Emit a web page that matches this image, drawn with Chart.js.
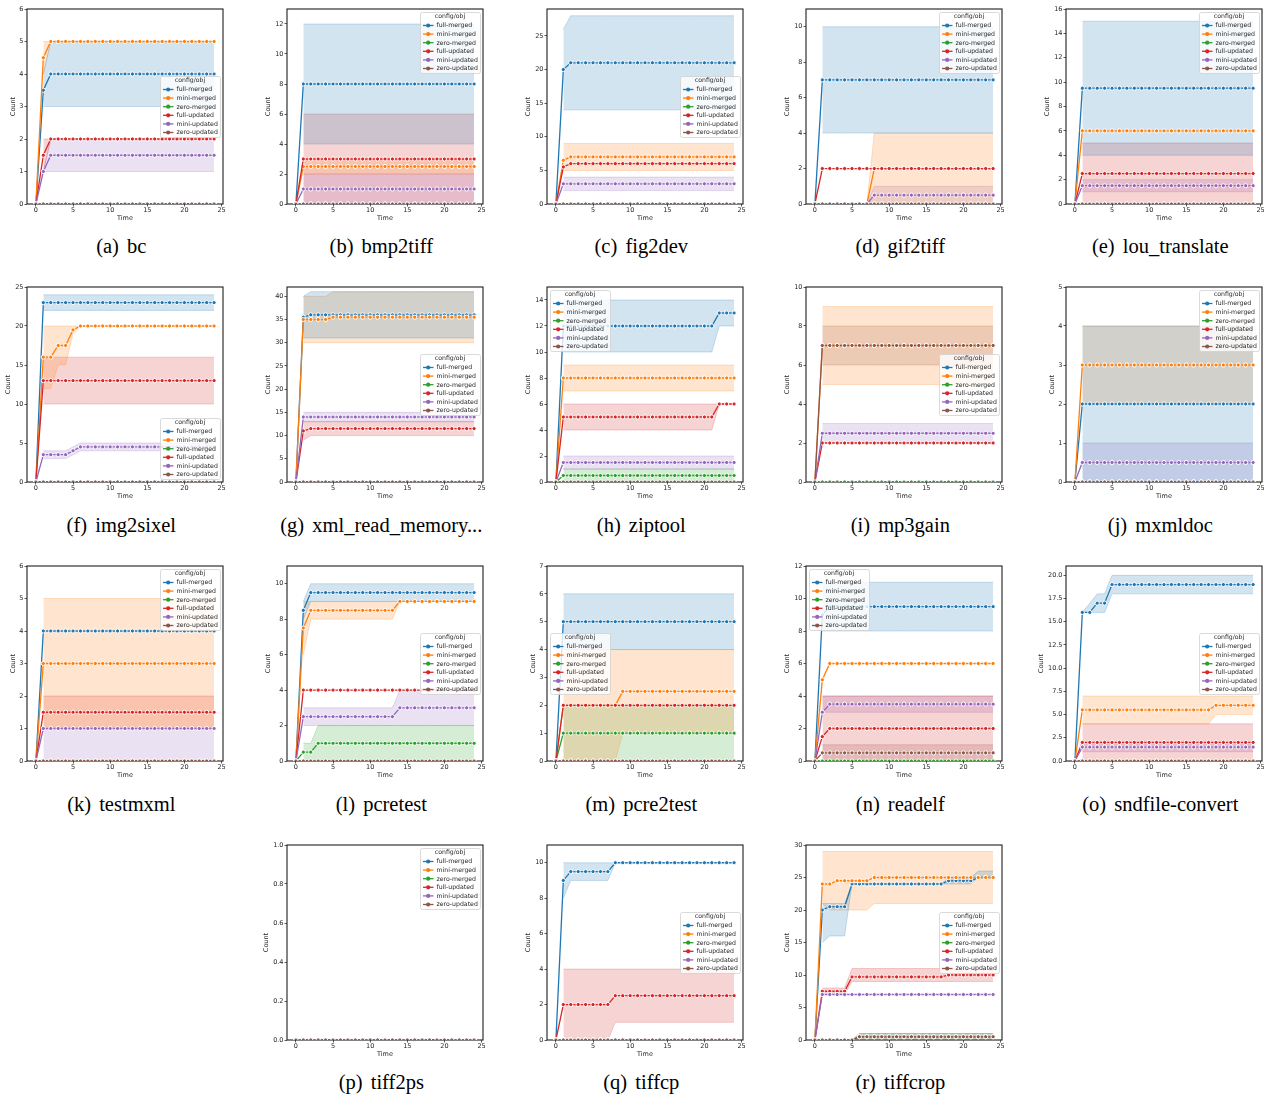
<!DOCTYPE html>
<html><head><meta charset="utf-8">
<script src="https://cdn.jsdelivr.net/npm/chart.js@4.4.1/dist/chart.umd.min.js"></script>
<style>
html,body{margin:0;padding:0;background:#fff;}
body{width:1267px;height:1095px;position:relative;overflow:hidden;}
canvas{position:absolute;}
.cap{position:absolute;font-family:'Liberation Serif','Times New Roman',serif;font-size:20.5px;color:#000;white-space:pre;text-align:center;width:300px;line-height:24px;word-spacing:3px;}
</style></head><body>
<script>
// ---------------- DATA ----------------
const TIME = [0,1,2,3,4, 5,6,7,8,9, 10,11,12,13,14, 15,16,17,18,19, 20,21,22,23,24];
const SERIES = ['full-merged','mini-merged','zero-merged','full-updated','mini-updated','zero-updated'];
const COLORS = ['#1f77b4','#ff7f0e','#2ca02c','#d62728','#9467bd','#8c564b'];
const X_TITLE = 'Time', Y_TITLE = 'Count', LEGEND_TITLE = 'config/obj';
const X_MIN = -1.2, X_MAX = 25.2, X_STEP = 5;
const PANEL_LETTERS = ['a','b','c','d','e','f','g','h','i','j','k','l','m','n','o','p','q','r'];
const PANEL_NAMES = ['bc','bmp2tiff','fig2dev','gif2tiff','lou_translate','img2sixel','xml_read_memory...','ziptool','mp3gain','mxmldoc','testmxml','pcretest','pcre2test','readelf','sndfile-convert','tiff2ps','tiffcp','tiffcrop'];
const Y_MAX  = [6,13,29,11,16, 25,42,15,10,5, 6,11,7,12,21, 1,11,30];
const Y_STEP = [1,2,5,2,2, 5,5,2,2,1, 1,2,1,2,2.5, 0.2,2,5];
const Y_DEC  = [0,0,0,0,0, 0,0,0,0,0, 0,0,0,0,1, 1,0,0];
const LEGEND_LOC = ['right','upper right','right','upper right','upper right','lower right','right','upper left','right','upper right','upper right','right','left','upper left','right','upper right','right','right'];

const ZERO = [0,0,0,0,0, 0,0,0,0,0, 0,0,0,0,0, 0,0,0,0,0, 0,0,0,0,0];

// (a) bc
const bc_mean = [
  [0,3.5,4,4,4, 4,4,4,4,4, 4,4,4,4,4, 4,4,4,4,4, 4,4,4,4,4],
  [0,4.5,5,5,5, 5,5,5,5,5, 5,5,5,5,5, 5,5,5,5,5, 5,5,5,5,5],
  ZERO,
  [0,1.5,2,2,2, 2,2,2,2,2, 2,2,2,2,2, 2,2,2,2,2, 2,2,2,2,2],
  [0,1,1.5,1.5,1.5, 1.5,1.5,1.5,1.5,1.5, 1.5,1.5,1.5,1.5,1.5, 1.5,1.5,1.5,1.5,1.5, 1.5,1.5,1.5,1.5,1.5],
  ZERO];
const bc_low = [
  [null,3,3,3,3, 3,3,3,3,3, 3,3,3,3,3, 3,3,3,3,3, 3,3,3,3,3],
  [null,4,5,5,5, 5,5,5,5,5, 5,5,5,5,5, 5,5,5,5,5, 5,5,5,5,5],
  null,
  [null,1,2,2,2, 2,2,2,2,2, 2,2,2,2,2, 2,2,2,2,2, 2,2,2,2,2],
  [null,1,1,1,1, 1,1,1,1,1, 1,1,1,1,1, 1,1,1,1,1, 1,1,1,1,1],
  null];
const bc_high = [
  [null,4,5,5,5, 5,5,5,5,5, 5,5,5,5,5, 5,5,5,5,5, 5,5,5,5,5],
  [null,5,5,5,5, 5,5,5,5,5, 5,5,5,5,5, 5,5,5,5,5, 5,5,5,5,5],
  null,
  [null,2,2,2,2, 2,2,2,2,2, 2,2,2,2,2, 2,2,2,2,2, 2,2,2,2,2],
  [null,1,2,2,2, 2,2,2,2,2, 2,2,2,2,2, 2,2,2,2,2, 2,2,2,2,2],
  null];

// (b) bmp2tiff
const bmp_mean = [
  [0,8,8,8,8, 8,8,8,8,8, 8,8,8,8,8, 8,8,8,8,8, 8,8,8,8,8],
  [0,2.5,2.5,2.5,2.5, 2.5,2.5,2.5,2.5,2.5, 2.5,2.5,2.5,2.5,2.5, 2.5,2.5,2.5,2.5,2.5, 2.5,2.5,2.5,2.5,2.5],
  ZERO,
  [0,3,3,3,3, 3,3,3,3,3, 3,3,3,3,3, 3,3,3,3,3, 3,3,3,3,3],
  [0,1,1,1,1, 1,1,1,1,1, 1,1,1,1,1, 1,1,1,1,1, 1,1,1,1,1],
  ZERO];
const bmp_low = [
  [null,4,4,4,4, 4,4,4,4,4, 4,4,4,4,4, 4,4,4,4,4, 4,4,4,4,4],
  [null,2,2,2,2, 2,2,2,2,2, 2,2,2,2,2, 2,2,2,2,2, 2,2,2,2,2],
  null,
  [null,0,0,0,0, 0,0,0,0,0, 0,0,0,0,0, 0,0,0,0,0, 0,0,0,0,0],
  [null,0,0,0,0, 0,0,0,0,0, 0,0,0,0,0, 0,0,0,0,0, 0,0,0,0,0],
  null];
const bmp_high = [
  [null,12,12,12,12, 12,12,12,12,12, 12,12,12,12,12, 12,12,12,12,12, 12,12,12,12,12],
  [null,3,3,3,3, 3,3,3,3,3, 3,3,3,3,3, 3,3,3,3,3, 3,3,3,3,3],
  null,
  [null,6,6,6,6, 6,6,6,6,6, 6,6,6,6,6, 6,6,6,6,6, 6,6,6,6,6],
  [null,2,2,2,2, 2,2,2,2,2, 2,2,2,2,2, 2,2,2,2,2, 2,2,2,2,2],
  null];

// (c) fig2dev
const fig_mean = [
  [0,20,21,21,21, 21,21,21,21,21, 21,21,21,21,21, 21,21,21,21,21, 21,21,21,21,21],
  [0,6.5,7,7,7, 7,7,7,7,7, 7,7,7,7,7, 7,7,7,7,7, 7,7,7,7,7],
  ZERO,
  [0,5.5,6,6,6, 6,6,6,6,6, 6,6,6,6,6, 6,6,6,6,6, 6,6,6,6,6],
  [0,3,3,3,3, 3,3,3,3,3, 3,3,3,3,3, 3,3,3,3,3, 3,3,3,3,3],
  ZERO];
const fig_low = [
  [null,14,14,14,14, 14,14,14,14,14, 14,14,14,14,14, 14,14,14,14,14, 14,14,14,14,14],
  [null,5,5,5,5, 5,5,5,5,5, 5,5,5,5,5, 5,5,5,5,5, 5,5,5,5,5],
  null,
  null,
  [null,2,2,2,2, 2,2,2,2,2, 2,2,2,2,2, 2,2,2,2,2, 2,2,2,2,2],
  null];
const fig_high = [
  [null,26,28,28,28, 28,28,28,28,28, 28,28,28,28,28, 28,28,28,28,28, 28,28,28,28,28],
  [null,9,9,9,9, 9,9,9,9,9, 9,9,9,9,9, 9,9,9,9,9, 9,9,9,9,9],
  null,
  null,
  [null,4,4,4,4, 4,4,4,4,4, 4,4,4,4,4, 4,4,4,4,4, 4,4,4,4,4],
  null];

// (d) gif2tiff
const gif_mean = [
  [0,7,7,7,7, 7,7,7,7,7, 7,7,7,7,7, 7,7,7,7,7, 7,7,7,7,7],
  [0,0,0,0,0, 0,0,0,2,2, 2,2,2,2,2, 2,2,2,2,2, 2,2,2,2,2],
  ZERO,
  [0,2,2,2,2, 2,2,2,2,2, 2,2,2,2,2, 2,2,2,2,2, 2,2,2,2,2],
  [0,0,0,0,0, 0,0,0,0.5,0.5, 0.5,0.5,0.5,0.5,0.5, 0.5,0.5,0.5,0.5,0.5, 0.5,0.5,0.5,0.5,0.5],
  ZERO];
const gif_low = [
  [null,4,4,4,4, 4,4,4,4,4, 4,4,4,4,4, 4,4,4,4,4, 4,4,4,4,4],
  [null,0,0,0,0, 0,0,0,0,0, 0,0,0,0,0, 0,0,0,0,0, 0,0,0,0,0],
  null,
  null,
  [null,0,0,0,0, 0,0,0,0,0, 0,0,0,0,0, 0,0,0,0,0, 0,0,0,0,0],
  null];
const gif_high = [
  [null,10,10,10,10, 10,10,10,10,10, 10,10,10,10,10, 10,10,10,10,10, 10,10,10,10,10],
  [null,0,0,0,0, 0,0,0,4,4, 4,4,4,4,4, 4,4,4,4,4, 4,4,4,4,4],
  null,
  null,
  [null,0,0,0,0, 0,0,0,1,1, 1,1,1,1,1, 1,1,1,1,1, 1,1,1,1,1],
  null];

// (e) lou_translate
const lou_mean = [
  [0,9.5,9.5,9.5,9.5, 9.5,9.5,9.5,9.5,9.5, 9.5,9.5,9.5,9.5,9.5, 9.5,9.5,9.5,9.5,9.5, 9.5,9.5,9.5,9.5,9.5],
  [0,6,6,6,6, 6,6,6,6,6, 6,6,6,6,6, 6,6,6,6,6, 6,6,6,6,6],
  ZERO,
  [0,2.5,2.5,2.5,2.5, 2.5,2.5,2.5,2.5,2.5, 2.5,2.5,2.5,2.5,2.5, 2.5,2.5,2.5,2.5,2.5, 2.5,2.5,2.5,2.5,2.5],
  [0,1.5,1.5,1.5,1.5, 1.5,1.5,1.5,1.5,1.5, 1.5,1.5,1.5,1.5,1.5, 1.5,1.5,1.5,1.5,1.5, 1.5,1.5,1.5,1.5,1.5],
  ZERO];
const lou_low = [
  [null,4,4,4,4, 4,4,4,4,4, 4,4,4,4,4, 4,4,4,4,4, 4,4,4,4,4],
  null,
  null,
  [null,0,0,0,0, 0,0,0,0,0, 0,0,0,0,0, 0,0,0,0,0, 0,0,0,0,0],
  [null,1,1,1,1, 1,1,1,1,1, 1,1,1,1,1, 1,1,1,1,1, 1,1,1,1,1],
  null];
const lou_high = [
  [null,15,15,15,15, 15,15,15,15,15, 15,15,15,15,15, 15,15,15,15,15, 15,15,15,15,15],
  null,
  null,
  [null,5,5,5,5, 5,5,5,5,5, 5,5,5,5,5, 5,5,5,5,5, 5,5,5,5,5],
  [null,2,2,2,2, 2,2,2,2,2, 2,2,2,2,2, 2,2,2,2,2, 2,2,2,2,2],
  null];

// (f) img2sixel
const img_mean = [
  [0,23,23,23,23, 23,23,23,23,23, 23,23,23,23,23, 23,23,23,23,23, 23,23,23,23,23],
  [0,16,16,17.5,17.5, 19.5,20,20,20,20, 20,20,20,20,20, 20,20,20,20,20, 20,20,20,20,20],
  ZERO,
  [0,13,13,13,13, 13,13,13,13,13, 13,13,13,13,13, 13,13,13,13,13, 13,13,13,13,13],
  [0,3.5,3.5,3.5,3.5, 4,4.5,4.5,4.5,4.5, 4.5,4.5,4.5,4.5,4.5, 4.5,4.5,4.5,4.5,4.5, 4.5,4.5,4.5,4.5,4.5],
  ZERO];
const img_low = [
  [null,22,22,22,22, 22,22,22,22,22, 22,22,22,22,22, 22,22,22,22,22, 22,22,22,22,22],
  [null,12,12,15,15, 19,20,20,20,20, 20,20,20,20,20, 20,20,20,20,20, 20,20,20,20,20],
  null,
  [null,10,10,10,10, 10,10,10,10,10, 10,10,10,10,10, 10,10,10,10,10, 10,10,10,10,10],
  [null,3,3,3,3, 3.5,4,4,4,4, 4,4,4,4,4, 4,4,4,4,4, 4,4,4,4,4],
  null];
const img_high = [
  [null,24,24,24,24, 24,24,24,24,24, 24,24,24,24,24, 24,24,24,24,24, 24,24,24,24,24],
  [null,20,20,20,20, 20,20,20,20,20, 20,20,20,20,20, 20,20,20,20,20, 20,20,20,20,20],
  null,
  [null,16,16,16,16, 16,16,16,16,16, 16,16,16,16,16, 16,16,16,16,16, 16,16,16,16,16],
  [null,4,4,4,4, 4.5,5,5,5,5, 5,5,5,5,5, 5,5,5,5,5, 5,5,5,5,5],
  null];

// (g) xml_read_memory...
const xml_mean = [
  [0,35.5,36,36,36, 36,36,36,36,36, 36,36,36,36,36, 36,36,36,36,36, 36,36,36,36,36],
  [0,35,35,35,35, 35.5,35.5,35.5,35.5,35.5, 35.5,35.5,35.5,35.5,35.5, 35.5,35.5,35.5,35.5,35.5, 35.5,35.5,35.5,35.5,35.5],
  ZERO,
  [0,11,11.5,11.5,11.5, 11.5,11.5,11.5,11.5,11.5, 11.5,11.5,11.5,11.5,11.5, 11.5,11.5,11.5,11.5,11.5, 11.5,11.5,11.5,11.5,11.5],
  [0,14,14,14,14, 14,14,14,14,14, 14,14,14,14,14, 14,14,14,14,14, 14,14,14,14,14],
  ZERO];
const xml_low = [
  [null,31,31,31,31, 31,31,31,31,31, 31,31,31,31,31, 31,31,31,31,31, 31,31,31,31,31],
  [null,30,30,30,30, 30,30,30,30,30, 30,30,30,30,30, 30,30,30,30,30, 30,30,30,30,30],
  null,
  [null,9,10,10,10, 10,10,10,10,10, 10,10,10,10,10, 10,10,10,10,10, 10,10,10,10,10],
  [null,13,13,13,13, 13,13,13,13,13, 13,13,13,13,13, 13,13,13,13,13, 13,13,13,13,13],
  null];
const xml_high = [
  [null,40,41,41,41, 41,41,41,41,41, 41,41,41,41,41, 41,41,41,41,41, 41,41,41,41,41],
  [null,40,40,40,40, 41,41,41,41,41, 41,41,41,41,41, 41,41,41,41,41, 41,41,41,41,41],
  null,
  [null,13,13,13,13, 13,13,13,13,13, 13,13,13,13,13, 13,13,13,13,13, 13,13,13,13,13],
  [null,15,15,15,15, 15,15,15,15,15, 15,15,15,15,15, 15,15,15,15,15, 15,15,15,15,15],
  null];

// (h) ziptool
const zip_mean = [
  [0,12,12,12,12, 12,12,12,12,12, 12,12,12,12,12, 12,12,12,12,12, 12,12,13,13,13],
  [0,8,8,8,8, 8,8,8,8,8, 8,8,8,8,8, 8,8,8,8,8, 8,8,8,8,8],
  [0,0.5,0.5,0.5,0.5, 0.5,0.5,0.5,0.5,0.5, 0.5,0.5,0.5,0.5,0.5, 0.5,0.5,0.5,0.5,0.5, 0.5,0.5,0.5,0.5,0.5],
  [0,5,5,5,5, 5,5,5,5,5, 5,5,5,5,5, 5,5,5,5,5, 5,5,6,6,6],
  [0,1.5,1.5,1.5,1.5, 1.5,1.5,1.5,1.5,1.5, 1.5,1.5,1.5,1.5,1.5, 1.5,1.5,1.5,1.5,1.5, 1.5,1.5,1.5,1.5,1.5],
  ZERO];
const zip_low = [
  [null,10,10,10,10, 10,10,10,10,10, 10,10,10,10,10, 10,10,10,10,10, 10,10,12,12,12],
  [null,7,7,7,7, 7,7,7,7,7, 7,7,7,7,7, 7,7,7,7,7, 7,7,7,7,7],
  [null,0,0,0,0, 0,0,0,0,0, 0,0,0,0,0, 0,0,0,0,0, 0,0,0,0,0],
  [null,4,4,4,4, 4,4,4,4,4, 4,4,4,4,4, 4,4,4,4,4, 4,4,6,6,6],
  [null,1,1,1,1, 1,1,1,1,1, 1,1,1,1,1, 1,1,1,1,1, 1,1,1,1,1],
  null];
const zip_high = [
  [null,14,14,14,14, 14,14,14,14,14, 14,14,14,14,14, 14,14,14,14,14, 14,14,14,14,14],
  [null,9,9,9,9, 9,9,9,9,9, 9,9,9,9,9, 9,9,9,9,9, 9,9,9,9,9],
  [null,1,1,1,1, 1,1,1,1,1, 1,1,1,1,1, 1,1,1,1,1, 1,1,1,1,1],
  [null,6,6,6,6, 6,6,6,6,6, 6,6,6,6,6, 6,6,6,6,6, 6,6,6,6,6],
  [null,2,2,2,2, 2,2,2,2,2, 2,2,2,2,2, 2,2,2,2,2, 2,2,2,2,2],
  null];

// (i) mp3gain
const mp3_mean = [
  ZERO,
  [0,7,7,7,7, 7,7,7,7,7, 7,7,7,7,7, 7,7,7,7,7, 7,7,7,7,7],
  ZERO,
  [0,2,2,2,2, 2,2,2,2,2, 2,2,2,2,2, 2,2,2,2,2, 2,2,2,2,2],
  [0,2.5,2.5,2.5,2.5, 2.5,2.5,2.5,2.5,2.5, 2.5,2.5,2.5,2.5,2.5, 2.5,2.5,2.5,2.5,2.5, 2.5,2.5,2.5,2.5,2.5],
  [0,7,7,7,7, 7,7,7,7,7, 7,7,7,7,7, 7,7,7,7,7, 7,7,7,7,7]];
const mp3_low = [
  null,
  [null,5,5,5,5, 5,5,5,5,5, 5,5,5,5,5, 5,5,5,5,5, 5,5,5,5,5],
  null,
  null,
  [null,2,2,2,2, 2,2,2,2,2, 2,2,2,2,2, 2,2,2,2,2, 2,2,2,2,2],
  [null,6,6,6,6, 6,6,6,6,6, 6,6,6,6,6, 6,6,6,6,6, 6,6,6,6,6]];
const mp3_high = [
  null,
  [null,9,9,9,9, 9,9,9,9,9, 9,9,9,9,9, 9,9,9,9,9, 9,9,9,9,9],
  null,
  null,
  [null,3,3,3,3, 3,3,3,3,3, 3,3,3,3,3, 3,3,3,3,3, 3,3,3,3,3],
  [null,8,8,8,8, 8,8,8,8,8, 8,8,8,8,8, 8,8,8,8,8, 8,8,8,8,8]];

// (j) mxmldoc
const mxd_mean = [
  [0,2,2,2,2, 2,2,2,2,2, 2,2,2,2,2, 2,2,2,2,2, 2,2,2,2,2],
  [0,3,3,3,3, 3,3,3,3,3, 3,3,3,3,3, 3,3,3,3,3, 3,3,3,3,3],
  ZERO,
  ZERO,
  [0,0.5,0.5,0.5,0.5, 0.5,0.5,0.5,0.5,0.5, 0.5,0.5,0.5,0.5,0.5, 0.5,0.5,0.5,0.5,0.5, 0.5,0.5,0.5,0.5,0.5],
  ZERO];
const mxd_low = [
  [null,0,0,0,0, 0,0,0,0,0, 0,0,0,0,0, 0,0,0,0,0, 0,0,0,0,0],
  [null,2,2,2,2, 2,2,2,2,2, 2,2,2,2,2, 2,2,2,2,2, 2,2,2,2,2],
  null,
  null,
  [null,0,0,0,0, 0,0,0,0,0, 0,0,0,0,0, 0,0,0,0,0, 0,0,0,0,0],
  null];
const mxd_high = [
  [null,4,4,4,4, 4,4,4,4,4, 4,4,4,4,4, 4,4,4,4,4, 4,4,4,4,4],
  [null,4,4,4,4, 4,4,4,4,4, 4,4,4,4,4, 4,4,4,4,4, 4,4,4,4,4],
  null,
  null,
  [null,1,1,1,1, 1,1,1,1,1, 1,1,1,1,1, 1,1,1,1,1, 1,1,1,1,1],
  null];

// (k) testmxml
const tmx_mean = [
  [0,4,4,4,4, 4,4,4,4,4, 4,4,4,4,4, 4,4,4,4,4, 4,4,4,4,4],
  [0,3,3,3,3, 3,3,3,3,3, 3,3,3,3,3, 3,3,3,3,3, 3,3,3,3,3],
  ZERO,
  [0,1.5,1.5,1.5,1.5, 1.5,1.5,1.5,1.5,1.5, 1.5,1.5,1.5,1.5,1.5, 1.5,1.5,1.5,1.5,1.5, 1.5,1.5,1.5,1.5,1.5],
  [0,1,1,1,1, 1,1,1,1,1, 1,1,1,1,1, 1,1,1,1,1, 1,1,1,1,1],
  ZERO];
const tmx_low = [
  null,
  [null,1,1,1,1, 1,1,1,1,1, 1,1,1,1,1, 1,1,1,1,1, 1,1,1,1,1],
  null,
  [null,1,1,1,1, 1,1,1,1,1, 1,1,1,1,1, 1,1,1,1,1, 1,1,1,1,1],
  [null,0,0,0,0, 0,0,0,0,0, 0,0,0,0,0, 0,0,0,0,0, 0,0,0,0,0],
  null];
const tmx_high = [
  null,
  [null,5,5,5,5, 5,5,5,5,5, 5,5,5,5,5, 5,5,5,5,5, 5,5,5,5,5],
  null,
  [null,2,2,2,2, 2,2,2,2,2, 2,2,2,2,2, 2,2,2,2,2, 2,2,2,2,2],
  [null,1,1,1,1, 1,1,1,1,1, 1,1,1,1,1, 1,1,1,1,1, 1,1,1,1,1],
  null];

// (l) pcretest
const pcr_mean = [
  [0,8.5,9.5,9.5,9.5, 9.5,9.5,9.5,9.5,9.5, 9.5,9.5,9.5,9.5,9.5, 9.5,9.5,9.5,9.5,9.5, 9.5,9.5,9.5,9.5,9.5],
  [0,7.5,8.5,8.5,8.5, 8.5,8.5,8.5,8.5,8.5, 8.5,8.5,8.5,8.5,9, 9,9,9,9,9, 9,9,9,9,9],
  [0,0.5,0.5,1,1, 1,1,1,1,1, 1,1,1,1,1, 1,1,1,1,1, 1,1,1,1,1],
  [0,4,4,4,4, 4,4,4,4,4, 4,4,4,4,4, 4,4,4,4,4, 4,4,4,4,4],
  [0,2.5,2.5,2.5,2.5, 2.5,2.5,2.5,2.5,2.5, 2.5,2.5,2.5,2.5,3, 3,3,3,3,3, 3,3,3,3,3],
  ZERO];
const pcr_low = [
  [null,8,9,9,9, 9,9,9,9,9, 9,9,9,9,9, 9,9,9,9,9, 9,9,9,9,9],
  [null,6,8,8,8, 8,8,8,8,8, 8,8,8,8,9, 9,9,9,9,9, 9,9,9,9,9],
  [null,0,0,0,0, 0,0,0,0,0, 0,0,0,0,0, 0,0,0,0,0, 0,0,0,0,0],
  null,
  [null,2,2,2,2, 2,2,2,2,2, 2,2,2,2,2, 2,2,2,2,2, 2,2,2,2,2],
  null];
const pcr_high = [
  [null,9,10,10,10, 10,10,10,10,10, 10,10,10,10,10, 10,10,10,10,10, 10,10,10,10,10],
  [null,9,9,9,9, 9,9,9,9,9, 9,9,9,9,9, 9,9,9,9,9, 9,9,9,9,9],
  [null,1,1,2,2, 2,2,2,2,2, 2,2,2,2,2, 2,2,2,2,2, 2,2,2,2,2],
  null,
  [null,3,3,3,3, 3,3,3,3,3, 3,3,3,3,4, 4,4,4,4,4, 4,4,4,4,4],
  null];

// (m) pcre2test
const pc2_mean = [
  [0,5,5,5,5, 5,5,5,5,5, 5,5,5,5,5, 5,5,5,5,5, 5,5,5,5,5],
  [0,2,2,2,2, 2,2,2,2,2.5, 2.5,2.5,2.5,2.5,2.5, 2.5,2.5,2.5,2.5,2.5, 2.5,2.5,2.5,2.5,2.5],
  [0,1,1,1,1, 1,1,1,1,1, 1,1,1,1,1, 1,1,1,1,1, 1,1,1,1,1],
  [0,2,2,2,2, 2,2,2,2,2, 2,2,2,2,2, 2,2,2,2,2, 2,2,2,2,2],
  ZERO,
  ZERO];
const pc2_low = [
  [null,4,4,4,4, 4,4,4,4,4, 4,4,4,4,4, 4,4,4,4,4, 4,4,4,4,4],
  [null,0,0,0,0, 0,0,0,0,1, 1,1,1,1,1, 1,1,1,1,1, 1,1,1,1,1],
  [null,0,0,0,0, 0,0,0,0,0, 0,0,0,0,0, 0,0,0,0,0, 0,0,0,0,0],
  null,
  null,
  null];
const pc2_high = [
  [null,6,6,6,6, 6,6,6,6,6, 6,6,6,6,6, 6,6,6,6,6, 6,6,6,6,6],
  [null,4,4,4,4, 4,4,4,4,4, 4,4,4,4,4, 4,4,4,4,4, 4,4,4,4,4],
  [null,2,2,2,2, 2,2,2,2,2, 2,2,2,2,2, 2,2,2,2,2, 2,2,2,2,2],
  null,
  null,
  null];

// (n) readelf
const rdf_mean = [
  [0,9,9.5,9.5,9.5, 9.5,9.5,9.5,9.5,9.5, 9.5,9.5,9.5,9.5,9.5, 9.5,9.5,9.5,9.5,9.5, 9.5,9.5,9.5,9.5,9.5],
  [0,5,6,6,6, 6,6,6,6,6, 6,6,6,6,6, 6,6,6,6,6, 6,6,6,6,6],
  ZERO,
  [0,1.5,2,2,2, 2,2,2,2,2, 2,2,2,2,2, 2,2,2,2,2, 2,2,2,2,2],
  [0,3,3.5,3.5,3.5, 3.5,3.5,3.5,3.5,3.5, 3.5,3.5,3.5,3.5,3.5, 3.5,3.5,3.5,3.5,3.5, 3.5,3.5,3.5,3.5,3.5],
  [0,0.5,0.5,0.5,0.5, 0.5,0.5,0.5,0.5,0.5, 0.5,0.5,0.5,0.5,0.5, 0.5,0.5,0.5,0.5,0.5, 0.5,0.5,0.5,0.5,0.5]];
const rdf_low = [
  [null,8,8,8,8, 8,8,8,8,8, 8,8,8,8,8, 8,8,8,8,8, 8,8,8,8,8],
  null,
  null,
  [null,0,0,0,0, 0,0,0,0,0, 0,0,0,0,0, 0,0,0,0,0, 0,0,0,0,0],
  [null,3,3,3,3, 3,3,3,3,3, 3,3,3,3,3, 3,3,3,3,3, 3,3,3,3,3],
  [null,0,0,0,0, 0,0,0,0,0, 0,0,0,0,0, 0,0,0,0,0, 0,0,0,0,0]];
const rdf_high = [
  [null,11,11,11,11, 11,11,11,11,11, 11,11,11,11,11, 11,11,11,11,11, 11,11,11,11,11],
  null,
  null,
  [null,4,4,4,4, 4,4,4,4,4, 4,4,4,4,4, 4,4,4,4,4, 4,4,4,4,4],
  [null,4,4,4,4, 4,4,4,4,4, 4,4,4,4,4, 4,4,4,4,4, 4,4,4,4,4],
  [null,1,1,1,1, 1,1,1,1,1, 1,1,1,1,1, 1,1,1,1,1, 1,1,1,1,1]];

// (o) sndfile-convert
const snd_mean = [
  [0,16,16,17,17, 19,19,19,19,19, 19,19,19,19,19, 19,19,19,19,19, 19,19,19,19,19],
  [0,5.5,5.5,5.5,5.5, 5.5,5.5,5.5,5.5,5.5, 5.5,5.5,5.5,5.5,5.5, 5.5,5.5,5.5,5.5,6, 6,6,6,6,6],
  ZERO,
  [0,2,2,2,2, 2,2,2,2,2, 2,2,2,2,2, 2,2,2,2,2, 2,2,2,2,2],
  [0,1.5,1.5,1.5,1.5, 1.5,1.5,1.5,1.5,1.5, 1.5,1.5,1.5,1.5,1.5, 1.5,1.5,1.5,1.5,1.5, 1.5,1.5,1.5,1.5,1.5],
  ZERO];
const snd_low = [
  [null,16,16,16,16, 18,18,18,18,18, 18,18,18,18,18, 18,18,18,18,18, 18,18,18,18,18],
  [null,4,4,4,4, 4,4,4,4,4, 4,4,4,4,4, 4,4,4,4,5, 5,5,5,5,5],
  null,
  [null,0,0,0,0, 0,0,0,0,0, 0,0,0,0,0, 0,0,0,0,0, 0,0,0,0,0],
  [null,1,1,1,1, 1,1,1,1,1, 1,1,1,1,1, 1,1,1,1,1, 1,1,1,1,1],
  null];
const snd_high = [
  [null,16,17,18,18, 20,20,20,20,20, 20,20,20,20,20, 20,20,20,20,20, 20,20,20,20,20],
  [null,7,7,7,7, 7,7,7,7,7, 7,7,7,7,7, 7,7,7,7,7, 7,7,7,7,7],
  null,
  [null,4,4,4,4, 4,4,4,4,4, 4,4,4,4,4, 4,4,4,4,4, 4,4,4,4,4],
  [null,2,2,2,2, 2,2,2,2,2, 2,2,2,2,2, 2,2,2,2,2, 2,2,2,2,2],
  null];

// (p) tiff2ps
const t2p_mean = [ZERO, ZERO, ZERO, ZERO, ZERO, ZERO];
const t2p_low  = [null, null, null, null, null, null];
const t2p_high = [null, null, null, null, null, null];

// (q) tiffcp
const tcp_mean = [
  [0,9,9.5,9.5,9.5, 9.5,9.5,9.5,10,10, 10,10,10,10,10, 10,10,10,10,10, 10,10,10,10,10],
  ZERO,
  ZERO,
  [0,2,2,2,2, 2,2,2,2.5,2.5, 2.5,2.5,2.5,2.5,2.5, 2.5,2.5,2.5,2.5,2.5, 2.5,2.5,2.5,2.5,2.5],
  ZERO,
  ZERO];
const tcp_low = [
  [null,8,9,9,9, 9,9,9,10,10, 10,10,10,10,10, 10,10,10,10,10, 10,10,10,10,10],
  null,
  null,
  [null,0,0,0,0, 0,0,0,1,1, 1,1,1,1,1, 1,1,1,1,1, 1,1,1,1,1],
  null,
  null];
const tcp_high = [
  [null,10,10,10,10, 10,10,10,10,10, 10,10,10,10,10, 10,10,10,10,10, 10,10,10,10,10],
  null,
  null,
  [null,4,4,4,4, 4,4,4,4,4, 4,4,4,4,4, 4,4,4,4,4, 4,4,4,4,4],
  null,
  null];

// (r) tiffcrop
const tcr_mean = [
  [0,20,20.5,20.5,20.5, 24,24,24,24,24, 24,24,24,24,24, 24,24,24,24.5,24.5, 24.5,24.5,25,25,25],
  [0,24,24,24.5,24.5, 24.5,24.5,24.5,25,25, 25,25,25,25,25, 25,25,25,25,25, 25,25,25,25,25],
  [0,0,0,0,0, 0,0.5,0.5,0.5,0.5, 0.5,0.5,0.5,0.5,0.5, 0.5,0.5,0.5,0.5,0.5, 0.5,0.5,0.5,0.5,0.5],
  [0,7.5,7.5,7.5,7.5, 9.7,9.7,9.7,9.7,9.7, 9.7,9.7,9.7,9.7,9.7, 9.7,9.7,9.7,10,10, 10,10,10,10,10],
  [0,7,7,7,7, 7,7,7,7,7, 7,7,7,7,7, 7,7,7,7,7, 7,7,7,7,7],
  [0,0,0,0,0, 0,0.5,0.5,0.5,0.5, 0.5,0.5,0.5,0.5,0.5, 0.5,0.5,0.5,0.5,0.5, 0.5,0.5,0.5,0.5,0.5]];
const tcr_low = [
  [null,15,16,16,16, 24,24,24,24,24, 24,24,24,24,24, 24,24,24,24,24, 24,24,25,25,25],
  [null,21,20,20,20, 20,20,20,21,21, 21,21,21,21,21, 21,21,21,21,21, 21,21,21,21,21],
  [null,0,0,0,0, 0,0,0,0,0, 0,0,0,0,0, 0,0,0,0,0, 0,0,0,0,0],
  [null,7,7,7,7, 9,9,9,9,9, 9,9,9,9,9, 9,9,9,9,9, 9,9,9,9,9],
  null,
  [null,0,0,0,0, 0,0,0,0,0, 0,0,0,0,0, 0,0,0,0,0, 0,0,0,0,0]];
const tcr_high = [
  [null,21,21,21,21, 24,24,24,24,24, 24,24,24,24,24, 24,24,24,25,25, 25,25,26,26,26],
  [null,29,29,29,29, 29,29,29,29,29, 29,29,29,29,29, 29,29,29,29,29, 29,29,29,29,29],
  [null,0,0,0,0, 0,1,1,1,1, 1,1,1,1,1, 1,1,1,1,1, 1,1,1,1,1],
  [null,8,8,8,8, 11,11,11,11,11, 11,11,11,11,11, 11,11,11,11,11, 11,11,11,11,11],
  null,
  [null,0,0,0,0, 0,1,1,1,1, 1,1,1,1,1, 1,1,1,1,1, 1,1,1,1,1]];

const PANEL_MEAN = [bc_mean,bmp_mean,fig_mean,gif_mean,lou_mean,img_mean,xml_mean,zip_mean,mp3_mean,mxd_mean,tmx_mean,pcr_mean,pc2_mean,rdf_mean,snd_mean,t2p_mean,tcp_mean,tcr_mean];
const PANEL_LOW  = [bc_low,bmp_low,fig_low,gif_low,lou_low,img_low,xml_low,zip_low,mp3_low,mxd_low,tmx_low,pcr_low,pc2_low,rdf_low,snd_low,t2p_low,tcp_low,tcr_low];
const PANEL_HIGH = [bc_high,bmp_high,fig_high,gif_high,lou_high,img_high,xml_high,zip_high,mp3_high,mxd_high,tmx_high,pcr_high,pc2_high,rdf_high,snd_high,t2p_high,tcp_high,tcr_high];

// ---------------- LAYOUT / STYLE ----------------
const COL_LEFT = [27, 287, 547, 806, 1066];
const ROW_TOP = [9, 287, 566, 845];
const CAP_Y = [246, 525, 804, 1082];
const PLOT_W = 196, PLOT_H = 195;
const AX_L = 30, PAD_T = 5, PAD_R = 8, AX_B = 28;
const TICK_FONT = {family: 'DejaVu Sans', size: 6.5};
const TXT = '#262626';

// sanity check
PANEL_MEAN.forEach((g, p) => [g, PANEL_LOW[p], PANEL_HIGH[p]].forEach((set, k) => set.forEach((a, s) => {
  if (a && a.length !== TIME.length) throw new Error('bad length panel ' + p + ' set ' + k + ' series ' + s + ': ' + a.length);
})));

function rgba(hex, a) {
  const n = parseInt(hex.slice(1), 16);
  return `rgba(${(n >> 16) & 255},${(n >> 8) & 255},${n & 255},${a})`;
}

const deco = {
  id: 'deco',
  beforeDatasetsDraw(chart) {
    const {ctx, chartArea: a} = chart;
    ctx.save();
    ctx.strokeStyle = '#1e1e1e';
    ctx.lineWidth = 1.1;
    ctx.strokeRect(a.left, a.top, a.right - a.left, a.bottom - a.top);
    ctx.restore();
  },
  afterDraw(chart, args, opts) {
    const {ctx, chartArea: a} = chart;
    ctx.save();
    ctx.fillStyle = TXT;
    ctx.font = '6.5px "DejaVu Sans"';
    ctx.textAlign = 'center';
    ctx.textBaseline = 'middle';
    ctx.fillText(X_TITLE, (a.left + a.right) / 2, a.bottom + 14);
    let mw = 0;
    chart.scales.y.ticks.forEach(t => { mw = Math.max(mw, ctx.measureText(String(t.label)).width); });
    const tx = a.left - 2.5 - 1 - mw - 3 - 3.5;
    ctx.translate(tx, (a.top + a.bottom) / 2);
    ctx.rotate(-Math.PI / 2);
    ctx.fillText(Y_TITLE, 0, 0);
    ctx.restore();

    // legend
    const w = 60, h = 61, pad = 3;
    const loc = opts.loc;
    let x0, y0;
    if (loc.includes('left')) x0 = a.left + pad; else x0 = a.right - pad - w;
    if (loc.startsWith('upper')) y0 = a.top + pad;
    else if (loc.startsWith('lower')) y0 = a.bottom - pad - h;
    else y0 = (a.top + a.bottom) / 2 - h / 2;
    ctx.save();
    ctx.beginPath();
    if (ctx.roundRect) ctx.roundRect(x0 + 0.5, y0 + 0.5, w, h, 2); else ctx.rect(x0 + 0.5, y0 + 0.5, w, h);
    ctx.fillStyle = 'rgba(255,255,255,0.8)';
    ctx.fill();
    ctx.strokeStyle = '#d0d0d0';
    ctx.lineWidth = 0.8;
    ctx.stroke();
    ctx.fillStyle = TXT;
    ctx.font = '6.2px "DejaVu Sans"';
    ctx.textAlign = 'center';
    ctx.textBaseline = 'middle';
    ctx.fillText(LEGEND_TITLE, x0 + w / 2, y0 + 4.8);
    ctx.textAlign = 'left';
    SERIES.forEach((name, i) => {
      const y = y0 + 13.5 + i * 8.6;
      ctx.strokeStyle = COLORS[i];
      ctx.lineWidth = 1.3;
      ctx.beginPath(); ctx.moveTo(x0 + 3, y); ctx.lineTo(x0 + 13.5, y); ctx.stroke();
      ctx.fillStyle = COLORS[i];
      ctx.beginPath(); ctx.arc(x0 + 8.2, y, 2.1, 0, Math.PI * 2); ctx.fill();
      ctx.fillStyle = TXT;
      ctx.fillText(name, x0 + 16.5, y + 0.3);
    });
    ctx.restore();
  }
};

PANEL_NAMES.forEach((name, p) => {
  const row = Math.floor(p / 5);
  const col = p < 15 ? p % 5 : (p - 15) + 1;
  const pl = COL_LEFT[col], pt = ROW_TOP[row];
  const W = AX_L + PLOT_W + PAD_R, H = PAD_T + PLOT_H + AX_B;
  const cv = document.createElement('canvas');
  cv.width = W; cv.height = H;
  cv.style.left = (pl - AX_L) + 'px';
  cv.style.top = (pt - PAD_T) + 'px';
  cv.style.width = W + 'px'; cv.style.height = H + 'px';
  document.body.appendChild(cv);

  const cap = document.createElement('div');
  cap.className = 'cap';
  cap.textContent = '(' + PANEL_LETTERS[p] + ') ' + name;
  cap.style.left = (pl + 94.3 - 150) + 'px';
  cap.style.top = (CAP_Y[row] - 12) + 'px';
  document.body.appendChild(cap);

  const datasets = [];
  const toXY = arr => TIME.map((t, i) => ({x: t, y: arr[i]}));
  SERIES.forEach((s, i) => {
    const lo = PANEL_LOW[p][i], hi = PANEL_HIGH[p][i];
    if (lo && hi) {
      datasets.push({
        data: toXY(lo), borderColor: rgba(COLORS[i], 0.28), borderWidth: 0.8,
        pointRadius: 0, fill: false, order: 20, spanGaps: false
      });
      datasets.push({
        data: toXY(hi), borderColor: rgba(COLORS[i], 0.28), borderWidth: 0.8,
        backgroundColor: rgba(COLORS[i], 0.2), pointRadius: 0, fill: '-1', order: 20, spanGaps: false
      });
    }
  });
  SERIES.forEach((s, i) => {
    datasets.push({
      label: s, data: toXY(PANEL_MEAN[p][i]), borderColor: COLORS[i], borderWidth: 1.3,
      pointRadius: 2.1, pointBorderWidth: 1, pointBorderColor: '#ffffff',
      pointBackgroundColor: COLORS[i], fill: false, order: -i, tension: 0
    });
  });

  const dec = Y_DEC[p];
  new Chart(cv, {
    type: 'line',
    data: {datasets},
    plugins: [deco],
    options: {
      responsive: false, animation: false, devicePixelRatio: 1, events: [],
      layout: {padding: {top: PAD_T, right: PAD_R, left: 0, bottom: 0}},
      plugins: {legend: {display: false}, tooltip: {enabled: false}, deco: {loc: LEGEND_LOC[p]}},
      scales: {
        x: {
          type: 'linear', min: X_MIN, max: X_MAX,
          ticks: {stepSize: X_STEP, includeBounds: false, font: TICK_FONT, color: TXT, padding: 0, maxRotation: 0, autoSkip: false},
          grid: {drawOnChartArea: false, drawTicks: true, tickLength: 2.5, color: '#333', lineWidth: 0.8},
          border: {display: false},
          afterFit(s) { s.height = AX_B; }
        },
        y: {
          type: 'linear', min: 0, max: Y_MAX[p],
          ticks: {stepSize: Y_STEP[p], includeBounds: false, font: TICK_FONT, color: TXT, padding: 1, autoSkip: false,
                  callback: v => Number(v).toFixed(dec)},
          grid: {drawOnChartArea: false, drawTicks: true, tickLength: 2.5, color: '#333', lineWidth: 0.8},
          border: {display: false},
          afterFit(s) { s.width = AX_L; }
        }
      }
    }
  });
});
</script>
</body></html>
